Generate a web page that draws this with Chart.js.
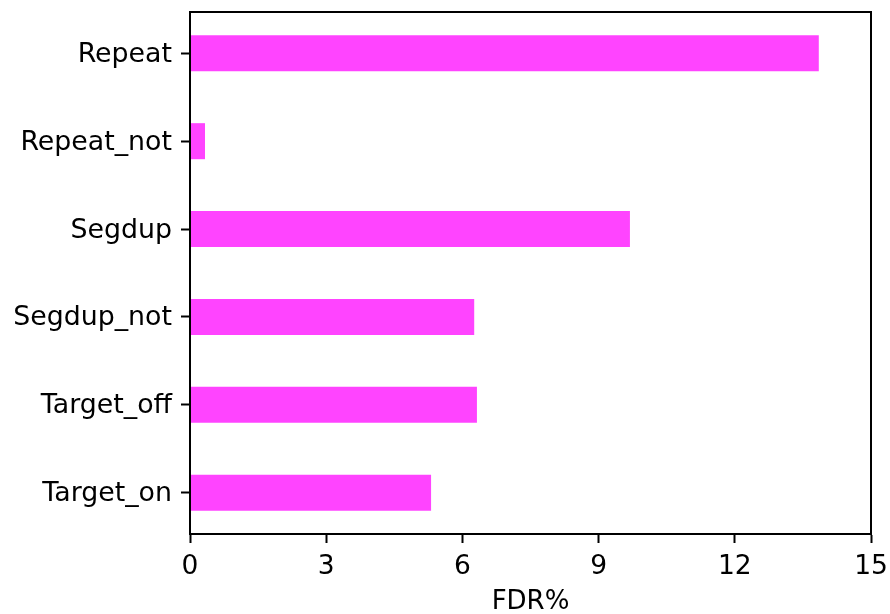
<!DOCTYPE html>
<html>
<head>
<meta charset="utf-8">
<script src="https://cdn.jsdelivr.net/npm/chart.js@4/dist/chart.umd.min.js"></script>
<style>
  html, body { margin: 0; padding: 0; background: #fff; }
  #wrap { width: 890px; height: 614px; }
</style>
</head>
<body>
<div id="wrap"><canvas id="c" width="890" height="614"></canvas></div>
<script>
const categories = ["Repeat", "Repeat_not", "Segdup", "Segdup_not", "Target_off", "Target_on"];
const fdrValues = [13.85, 0.33, 9.69, 6.26, 6.32, 5.31];
const xTicks = [0, 3, 6, 9, 12, 15];
const axisTitle = "FDR%";

const FONT = "'DejaVu Sans', sans-serif";

const boxPlugin = {
  id: 'box',
  afterDraw(chart) {
    const a = chart.chartArea, ctx = chart.ctx;
    ctx.save();
    ctx.strokeStyle = '#000';
    ctx.lineWidth = 2;
    ctx.strokeRect(a.left, a.top, a.right - a.left, a.bottom - a.top);
    ctx.restore();
  }
};

new Chart(document.getElementById('c'), {
  type: 'bar',
  data: {
    datasets: [{
      data: fdrValues.map((v, i) => ({ x: v, y: i })),
      backgroundColor: '#ff44ff',
      borderWidth: 0,
      barPercentage: 0.41,
      categoryPercentage: 1.0
    }]
  },
  options: {
    indexAxis: 'y',
    responsive: false,
    animation: false,
    layout: { padding: { top: 12, right: 19, left: 0, bottom: 0 } },
    plugins: { legend: { display: false }, tooltip: { enabled: false } },
    scales: {
      x: {
        type: 'linear',
        min: 0, max: 15,
        offset: false,
        afterBuildTicks(scale) { scale.ticks = xTicks.map(v => ({ value: v })); },
        afterFit(scale) { scale.height = 80; scale.paddingLeft = 0; scale.paddingRight = 0; },
        grid: { drawOnChartArea: false, offset: false, tickLength: 9, tickWidth: 2, tickColor: '#000' },
        border: { display: true, color: '#000', width: 2 },
        ticks: { color: '#000', font: { family: FONT, size: 26.5 }, padding: 8, maxRotation: 0 },
        title: { display: true, text: axisTitle, color: '#000', font: { family: FONT, size: 26 }, padding: { top: 0, bottom: -4 } }
      },
      y: {
        type: 'linear',
        reverse: true,
        min: -0.47, max: 5.47,
        offset: false,
        afterBuildTicks(scale) { scale.ticks = categories.map((_, i) => ({ value: i })); },
        afterFit(scale) { scale.width = 190; scale.paddingTop = 0; scale.paddingBottom = 0; },
        grid: { drawOnChartArea: false, offset: false, tickLength: 9, tickWidth: 2, tickColor: '#000' },
        border: { display: true, color: '#000', width: 2 },
        ticks: {
          color: '#000', font: { family: FONT, size: 26.8 }, padding: 9, labelOffset: 1.5,
          callback: (v) => categories[v] ?? ''
        }
      }
    }
  },
  plugins: [boxPlugin]
});
</script>
</body>
</html>
